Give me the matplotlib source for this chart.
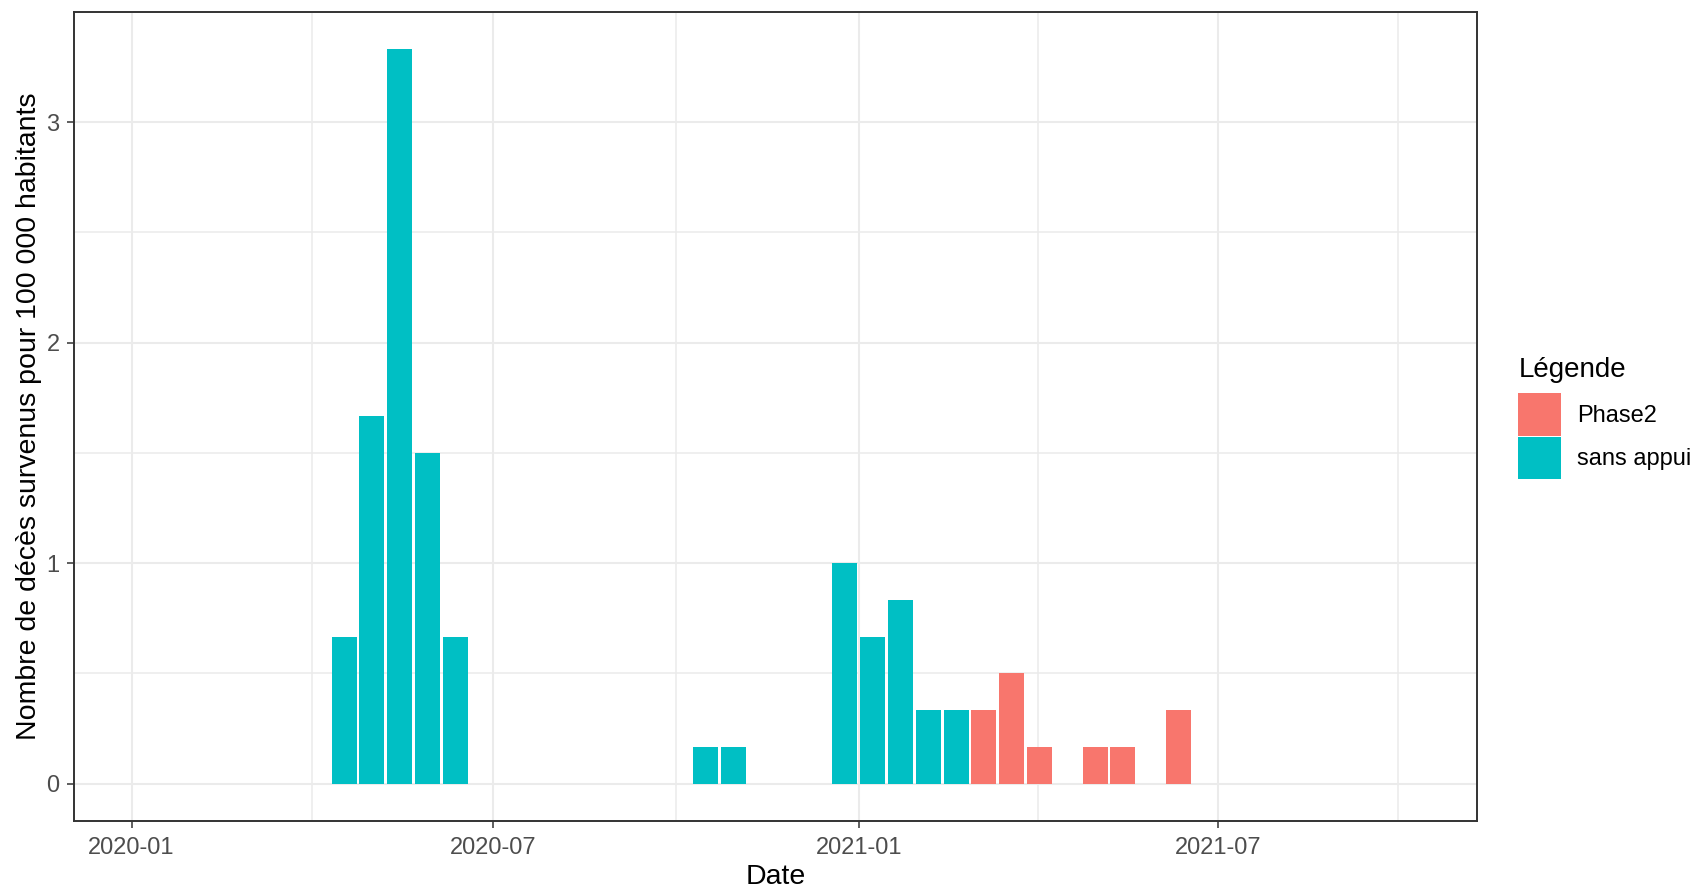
import numpy as np
import pandas as pd
import matplotlib
matplotlib.use('Agg')
import matplotlib.pyplot as plt
import matplotlib.dates as mdates
from matplotlib.patches import Patch

plt.rcParams['font.family'] = ['Liberation Sans', 'DejaVu Sans']

# two-week periods, date = centre of each bar
dates_sans_appui = ['2020-04-17', '2020-05-01', '2020-05-15', '2020-05-29', '2020-06-12',
                    '2020-10-16', '2020-10-30',
                    '2020-12-25', '2021-01-08', '2021-01-22', '2021-02-05', '2021-02-19']
deces_sans_appui = [0.667, 1.667, 3.333, 1.5, 0.667,
                    0.167, 0.167,
                    1.0, 0.667, 0.833, 0.333, 0.333]

dates_phase2 = ['2021-03-05', '2021-03-19', '2021-04-02', '2021-04-30', '2021-05-14', '2021-06-11']
deces_phase2 = [0.333, 0.5, 0.167, 0.167, 0.167, 0.333]

legend_labels = ['Phase2', 'sans appui']
colors = ['#F8766D', '#00BFC4']

major_dates = ['2020-01-01', '2020-07-01', '2021-01-01', '2021-07-01']
x_limits = ['2019-12-03', '2021-11-08']

bar_width = 12.6  # days (0.9 * 14)

fig = plt.figure(figsize=(17.02, 8.92), dpi=100)
ax = fig.add_axes([74 / 1702, 1 - 820.5 / 892, (1476.5 - 74) / 1702, (820.5 - 12) / 892])

ax.bar(pd.to_datetime(dates_sans_appui), deces_sans_appui, width=bar_width,
       color=colors[1], zorder=3)
ax.bar(pd.to_datetime(dates_phase2), deces_phase2, width=bar_width,
       color=colors[0], zorder=3)

# limits, like ggplot's 5% expansion
ax.set_xlim(pd.to_datetime(x_limits[0]), pd.to_datetime(x_limits[1]))
ax.set_ylim(-0.1667, 3.5)

# ticks and grid
majors = pd.to_datetime(major_dates)
mnum = mdates.date2num(majors)
minors = list((mnum[:-1] + mnum[1:]) / 2) + [mnum[-1] + (mnum[-1] - mnum[-2]) / 2]
ax.set_xticks(majors)
ax.set_xticks(minors, minor=True)
ax.xaxis.set_major_formatter(mdates.DateFormatter('%Y-%m'))
ax.set_yticks([0, 1, 2, 3])
ax.set_yticks([0.5, 1.5, 2.5], minor=True)

ax.grid(which='major', color='#EBEBEB', linewidth=1.5, zorder=0)
ax.grid(which='minor', color='#EBEBEB', linewidth=1.1, zorder=0)
ax.set_axisbelow(True)

ax.tick_params(which='major', length=4.8, width=1.1, color='#333333',
               labelsize=17, labelcolor='#4D4D4D')
ax.tick_params(axis='x', which='major', pad=7.0)
ax.tick_params(axis='y', which='major', pad=5.6)
ax.tick_params(which='minor', length=0)

for s in ax.spines.values():
    s.set_color('#333333')
    s.set_linewidth(1.4)

ax.set_xlabel('Date', fontsize=20.5, color='black')
ax.set_ylabel('Nombre de décès survenus pour 100 000 habitants',
              fontsize=20.5, color='black')
ax.xaxis.set_label_coords(0.5, -0.0535)
ax.yaxis.set_label_coords(-0.023, 0.5)

# legend
fig.text(1519 / 1702, 1 - 377 / 892, 'Légende', fontsize=20,
         ha='left', va='baseline')
handles = [Patch(facecolor=c, edgecolor='none') for c in colors]
leg = fig.legend(handles, legend_labels, loc='upper left',
                 bbox_to_anchor=(1518 / 1702, 1 - 393 / 892), frameon=False,
                 fontsize=17, handlelength=1.82, handleheight=2.4,
                 handletextpad=0.68, labelspacing=0.05,
                 borderpad=0, borderaxespad=0)

fig.savefig('out.png', dpi=100)
